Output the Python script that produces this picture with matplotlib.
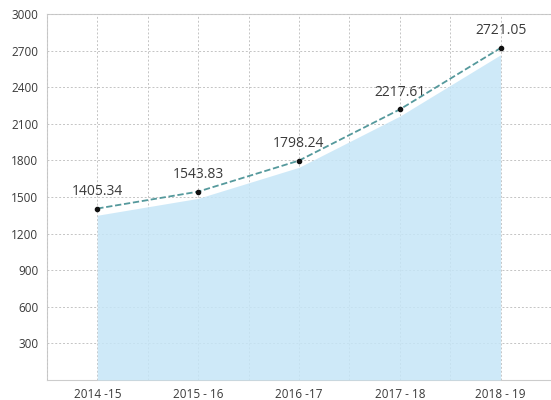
import matplotlib
matplotlib.use("Agg")
from matplotlib import pyplot as plt
import numpy as np

years = ["2014 -15", "2015 - 16", "2016 -17", "2017 - 18", "2018 - 19"]
values = [1405.34, 1543.83, 1798.24, 2217.61, 2721.05]
yticks = [300, 600, 900, 1200, 1500, 1800, 2100, 2400, 2700, 3000]

plt.rcParams['font.family'] = ['Open Sans', 'DejaVu Sans']

fig = plt.figure(figsize=(5.51, 4.0), dpi=100)
ax = fig.add_axes([0.085, 0.05, 0.915, 0.915])

x = np.arange(len(years))
vals = np.array(values)

# shaded area sits a little below the line, leaving a white band
ax.fill_between(x, 0, vals - 55, color='#c6e6f7', alpha=0.85, zorder=3,
                linewidth=0)

ax.plot(x, vals, linestyle=(0, (3.5, 1.5)), color='#55999c', linewidth=1.3,
        marker='o', markersize=3, markerfacecolor='#111111',
        markeredgecolor='#111111', zorder=4)

for xi, v in zip(x, values):
    ax.annotate(f'{v:.2f}', (xi, v), xytext=(0, 7), textcoords='offset points',
                ha='center', va='bottom', fontsize=10, color='#3a3a3a')

ax.set_xlim(-0.5, 4.5)
ax.set_ylim(0, 3000)
ax.set_xticks(x)
ax.set_xticklabels(years)
ax.set_yticks(yticks)
ax.set_xticks(np.arange(-0.5, 4.6, 0.5), minor=True)
ax.tick_params(axis='both', which='both', length=0, labelsize=8.5,
               colors='#3a3a3a', pad=6)
ax.grid(True, which='both', axis='x', linestyle=(0, (2, 2)),
        color='#c4c4c4', linewidth=0.7, zorder=2)
ax.grid(True, which='major', axis='y', linestyle=(0, (2, 2)),
        color='#c4c4c4', linewidth=0.7, zorder=2)
ax.set_axisbelow(False)
for gl in ax.get_xgridlines() + ax.get_ygridlines():
    gl.set_zorder(2)

for side in ['top', 'left', 'bottom']:
    ax.spines[side].set_color('#cccccc')
ax.spines['right'].set_visible(False)

fig.savefig('out.png', dpi=100)
